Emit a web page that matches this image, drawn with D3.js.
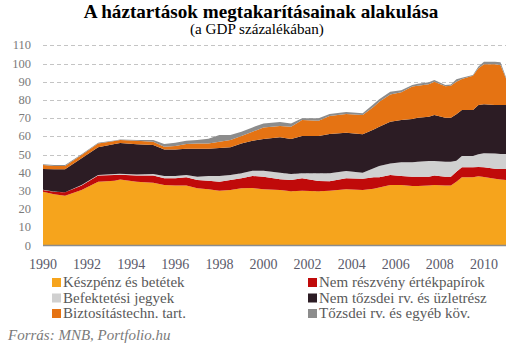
<!DOCTYPE html>
<html><head><meta charset="utf-8">
<script src="https://cdn.jsdelivr.net/npm/d3@7"></script>
<style>body{margin:0;background:#fff}svg{display:block}</style>
</head><body>
<svg id="c" width="513" height="356"></svg>
<script>
const dates = [1990.0,1990.5,1991.0,1991.75,1992.5,1993.25,1993.5,1994.25,1995.0,1995.5,1996.0,1996.5,1997.0,1997.5,1998.0,1998.5,1999.0,1999.5,2000.0,2000.75,2001.25,2001.75,2002.5,2003.0,2003.75,2004.5,2005.0,2005.25,2005.75,2006.25,2006.75,2007.0,2007.5,2007.75,2008.25,2008.5,2008.75,2009.0,2009.5,2009.75,2010.0,2010.5,2010.75,2011.0];
const cash      = [29.6,28.1,27.4,30.5,35.0,35.6,36.2,35.0,34.5,33.2,32.9,32.9,31.4,30.9,30.1,30.5,31.4,31.6,30.9,30.5,29.8,30.1,29.8,30.1,30.9,30.5,31.2,31.8,33.2,33.2,32.7,32.7,32.9,33.2,32.9,32.9,35.0,37.5,37.5,38.0,37.7,36.7,36.2,36.0];
const nonShare  = [0.9,1.5,1.8,2.4,3.4,3.1,2.7,3.4,3.9,3.7,4.0,4.6,4.6,4.7,4.9,5.5,5.5,6.6,6.9,5.9,6.2,6.8,5.6,5.2,6.0,6.2,6.3,5.7,5.5,5.0,5.1,5.1,4.9,5.2,4.9,4.9,5.5,5.5,5.5,5.1,5.3,5.5,5.8,6.0];
const funds     = [0.1,0.1,0.1,0.3,0.3,0.6,0.5,0.6,0.9,1.3,1.3,1.2,1.8,2.6,3.2,2.7,2.8,2.9,3.3,3.6,3.3,2.8,4.3,4.4,4.0,3.3,4.9,6.2,6.4,7.5,7.9,8.2,8.6,8.0,8.2,8.2,6.1,6.2,6.2,7.0,7.7,8.3,8.3,8.3];
const unlisted  = [11.4,12.2,12.6,14.7,15.3,16.5,16.9,16.6,15.9,14.6,14.6,14.5,15.4,15.0,15.4,15.3,16.4,16.5,17.4,19.5,19.2,20.5,20.5,21.6,21.1,21.1,21.4,21.6,22.9,23.3,23.8,24.2,24.4,25.3,24.2,24.2,25.5,25.3,25.3,27.1,26.9,26.7,26.9,26.9];
const insurance = [2.2,1.8,1.8,1.8,2.1,1.6,1.7,2.0,1.8,1.5,1.9,2.6,2.9,2.9,3.4,4.0,4.1,4.9,6.4,6.2,6.8,8.8,8.4,9.9,10.3,10.6,12.5,13.7,15.0,15.2,17.8,17.6,17.8,18.3,17.3,17.6,17.9,17.0,18.8,20.2,22.0,22.4,22.0,14.6];
const listed    = [0.5,0.5,0.5,0.4,0.4,0.3,0.3,0.4,1.0,1.5,1.8,1.8,1.9,2.6,3.7,2.7,2.3,2.4,2.2,2.2,1.8,0.9,1.3,1.1,1.1,0.9,1.4,1.3,1.5,1.1,0.9,1.1,1.1,0.9,0.7,0.7,1.3,0.7,0.4,0.9,1.4,1.4,1.5,0.7];
const seriesNames = ["Készpénz és betétek","Nem részvény értékpapírok","Befektetési jegyek","Nem tőzsdei rv. és üzletrész","Biztosítástechn. tart.","Tőzsdei rv. és egyéb köv."];
const seriesColors = ["#F6A41C","#C00A0A","#D0D0D0","#2C1C24","#E57313","#8C8C8C"];
const yTicks = [0,10,20,30,40,50,60,70,80,90,100,110];
const xTicks = [1990,1992,1994,1996,1998,2000,2002,2004,2006,2008,2010];

const keys = ["cash","nonShare","funds","unlisted","insurance","listed"];
const cols = [cash,nonShare,funds,unlisted,insurance,listed];
const rows = dates.map((d,i)=>{const r={date:d}; keys.forEach((k,j)=>r[k]=cols[j][i]); return r;});

const svg = d3.select("#c");
const L=43, R=506, T=45.3, B=245.5;
const x = d3.scaleLinear().domain([1990,2011]).range([L,R]);
const y = d3.scaleLinear().domain([0,110]).range([B,T]);

// grid
svg.append("g").selectAll("line").data(yTicks.filter(t=>t>0)).join("line")
  .attr("x1",L).attr("x2",R).attr("y1",d=>Math.round(y(d))+0.5).attr("y2",d=>Math.round(y(d))+0.5)
  .attr("stroke","#c4c4c4").attr("stroke-width",1).attr("stroke-dasharray","4,3");

const stack = d3.stack().keys(keys)(rows);
const area = d3.area().x(d=>x(d.data.date)).y0(d=>y(d[0])).y1(d=>y(d[1]));
svg.append("g").selectAll("path").data(stack).join("path")
  .attr("d",area).attr("fill",(d,i)=>seriesColors[i]);

// baseline
svg.append("line").attr("x1",L).attr("x2",R).attr("y1",B).attr("y2",B)
  .attr("stroke","#8c8c8c").attr("stroke-width",1.5);

// y labels
svg.append("g").selectAll("text").data(yTicks).join("text")
  .attr("x",31).attr("y",d=>y(d)+4).attr("text-anchor","end")
  .attr("font-family","Liberation Serif").attr("font-size",12.5).attr("fill","#7a7a7a")
  .text(d=>d);

// x labels
svg.append("g").selectAll("text").data(xTicks).join("text")
  .attr("x",d=>x(d)).attr("y",269).attr("text-anchor","middle")
  .attr("font-family","Liberation Serif").attr("font-size",14).attr("fill","#5a5a6a")
  .text(d=>d);

// title
function fitText(sel,w){const n=sel.node();const l=n.getComputedTextLength();const fs=parseFloat(sel.attr("font-size"));sel.attr("font-size",fs*w/l);}
const t1 = svg.append("text").attr("x",261).attr("y",17.5).attr("text-anchor","middle")
  .attr("font-family","Liberation Serif").attr("font-weight","bold").attr("font-size",17).attr("fill","#000")
  .text("A háztartások megtakarításainak alakulása");
fitText(t1,355);
const t2 = svg.append("text").attr("x",257).attr("y",34).attr("text-anchor","middle")
  .attr("font-family","Liberation Serif").attr("font-size",13).attr("fill","#000")
  .text("(a GDP százalékában)");
fitText(t2,134);

// legend
const lg = svg.append("g");
const lx=[52,308], ly=[282.5,298,313.5];
seriesNames.forEach((n,i)=>{
  const cx = lx[i%2], cy = ly[Math.floor(i/2)];
  lg.append("rect").attr("x",cx).attr("y",cy-4.5).attr("width",9).attr("height",9).attr("fill",seriesColors[i]);
  lg.append("text").attr("x",cx+11).attr("y",cy+4.5).attr("font-family","Liberation Serif").attr("font-size",15)
    .attr("fill","#595959").text(n);
});

svg.append("text").attr("x",8).attr("y",340).attr("font-family","Liberation Serif").attr("font-style","italic")
  .attr("font-size",15).attr("fill","#7a7a7a").text("Forrás: MNB, Portfolio.hu");
</script>
</body></html>
